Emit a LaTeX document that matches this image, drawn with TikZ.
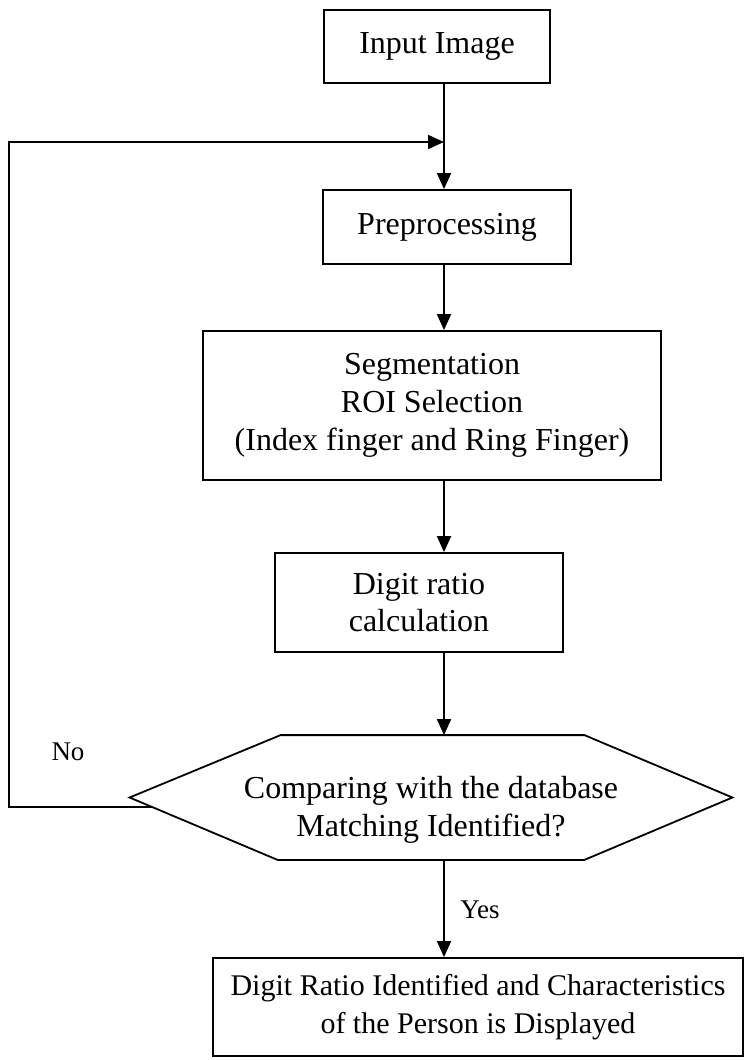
\documentclass[tikz,border=0pt]{standalone}
\usepackage{fontspec}
\setmainfont{Liberation Serif}
\usetikzlibrary{arrows.meta,calc}

\begin{document}
\begin{tikzpicture}[x=1pt, y=-1pt, line width=1.8pt,
    font=\fontsize{32}{37.7}\selectfont,
    box/.style={draw, rectangle, inner sep=0pt, align=center},
    flow/.style={-{Triangle[length=16pt,width=14pt]}},
    lbl/.style={font=\fontsize{27}{32}\selectfont}]
  \useasboundingbox (0,0) rectangle (745,1060);
  \coordinate (spine) at (444,0);
  \coordinate (back) at (9,142);

  \node (inp) [box, minimum width=226pt, minimum height=73pt] at (437,46.5) {Input Image};
  \node (pre) [box, minimum width=248pt, minimum height=74pt] at (447,227) {Preprocessing};
  \node (seg) [box, minimum width=458pt, minimum height=149pt] at (432,405.5)
        {Segmentation\\ROI Selection\\(Index finger and Ring Finger)};
  \node (dig) [box, minimum width=288pt, minimum height=99pt] at (419,602.5) {Digit ratio\\calculation};
  \node (cmp) [inner sep=0pt, minimum width=601pt, minimum height=123pt] at (431,797.5) {};
  \node (cmptxt) [align=center] at ($(cmp.center)+(0,12)$)
        {Comparing with the database\\Matching Identified?};
  \node (res) [box, minimum width=530pt, minimum height=98pt,
        font=\fontsize{30}{37.7}\selectfont] at (478,1007)
        {Digit Ratio Identified and Characteristics\\of the Person is Displayed};
  \node (no) [lbl] at (68,752) {No};
  \node (yes) [lbl] at (480,910) {Yes};

  % hexagon round the decision
  \coordinate (hexbl) at ($(cmp.south west)+(148,0)$);
  \draw (cmp.west) -- ($(cmp.north west)+(151,0)$) -- ($(cmp.north east)+(-148,0)$)
        -- (cmp.east) -- ($(cmp.south east)+(-148,0)$) -- (hexbl) -- cycle;

  \draw [flow] (inp.south -| spine) -- (pre.north -| spine);
  \draw [flow] (pre.south -| spine) -- (seg.north -| spine);
  \draw [flow] (seg.south -| spine) -- (dig.north -| spine);
  \draw [flow] (dig.south -| spine) -- (cmp.north -| spine);
  \draw [flow] (cmp.south -| spine) -- (res.north -| spine);
  % no: back to the top
  \draw [flow] ($(cmp.west)!0.15!(hexbl)$) -| (back) -- (back -| spine);
\end{tikzpicture}
\end{document}
